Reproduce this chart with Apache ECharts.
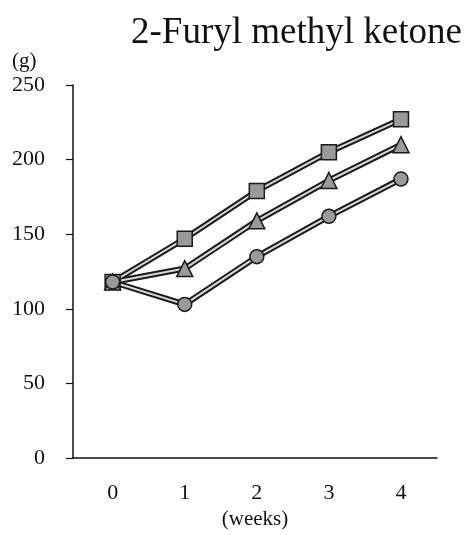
<!DOCTYPE html>
<html>
<head>
<meta charset="utf-8">
<script src="https://cdn.jsdelivr.net/npm/echarts@6/dist/echarts.min.js"></script>
<style>html,body{margin:0;padding:0;background:#fff}#c{width:466px;height:535px}</style>
</head>
<body>
<div id="c"></div>
<script>
var weeks = [0, 1, 2, 3, 4];
var squareSeries = [118, 147, 179, 205, 227];
var triangleSeries = [118, 127, 159, 186, 210];
var circleSeries = [118, 103, 135, 162, 187];
var yTicks = [0, 50, 100, 150, 200, 250];

var FONT = "'Liberation Serif', 'Times New Roman', serif";
function pts(vals){ return weeks.map(function(w,i){ return [w, vals[i]]; }); }

var shapes = [
  {data: squareSeries, symbol: 'rect', size: 15},
  {data: triangleSeries, symbol: 'triangle', size: 16},
  {data: circleSeries, symbol: 'circle', size: 14}
];
var series = [];
shapes.forEach(function(s){
  series.push({type:'line', data: pts(s.data), symbol:'none', z:1, silent:true,
    lineStyle:{color:'#1a1a1a', width:6}});
});
shapes.forEach(function(s){
  series.push({type:'line', data: pts(s.data), symbol: s.symbol, symbolSize: s.size, z:2, silent:true,
    lineStyle:{color:'#d8d8d8', width:2},
    itemStyle:{color:'#9a9a9a', borderColor:'#1a1a1a', borderWidth:1.5}});
});

var chart = echarts.init(document.getElementById('c'), null, {renderer:'canvas'});
chart.setOption({
  animation: false,
  backgroundColor: '#fff',
  title: [
    {text: '2-Furyl methyl ketone', left: 126, top: 10,
     textStyle:{fontFamily: FONT, fontSize: 37, fontWeight:'normal', color:'#111'}},
    {text: '(g)', left: 7, top: 46,
     textStyle:{fontFamily: FONT, fontSize: 21, fontWeight:'normal', color:'#111'}}
  ],
  grid: {left: 73, right: 29, top: 85, bottom: 73},
  xAxis: {
    type: 'value', min: -0.55, max: 4.5,
    name: '(weeks)', nameLocation: 'middle', nameGap: 48,
    nameTextStyle: {fontFamily: FONT, fontSize: 21, color:'#111'},
    axisLine: {show: true, onZero: false, lineStyle:{color:'#111', width:1.5}},
    axisTick: {show: false},
    splitLine: {show: false},
    axisLabel: {customValues: weeks, fontFamily: FONT, fontSize: 22, color:'#111', margin: 24}
  },
  yAxis: {
    type: 'value', min: 0, max: 250, interval: 50,
    axisLine: {show: true, onZero: false, lineStyle:{color:'#111', width:1.5}},
    axisTick: {show: true, inside: false, length: 7, lineStyle:{color:'#111', width:1.2}},
    splitLine: {show: false},
    axisLabel: {fontFamily: FONT, fontSize: 22, color:'#111', margin: 28,
      formatter: function(v){ return yTicks.indexOf(v) >= 0 ? String(v) : ''; }}
  },
  series: series
});
</script>
</body>
</html>
